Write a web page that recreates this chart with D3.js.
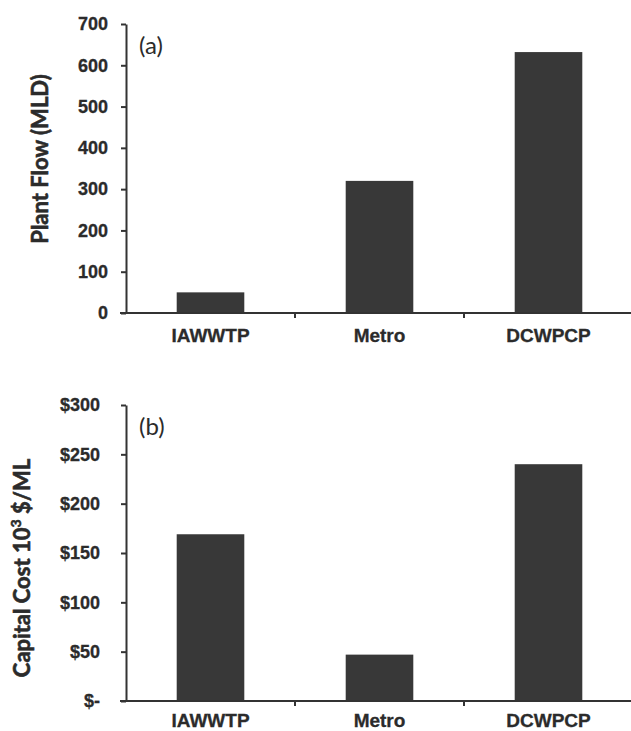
<!DOCTYPE html>
<html>
<head>
<meta charset="utf-8">
<script src="https://cdn.jsdelivr.net/npm/d3@7"></script>
<style>
  body { margin: 0; background: #fff; }
  .tick text { font-family: "Liberation Sans", Arial, sans-serif; font-weight: bold; fill: #2b2b2b; stroke: #2b2b2b; stroke-width: 0.3; }
  .axis path, .axis line { stroke: #333; stroke-width: 2; }
</style>
</head>
<body>
<div class="chart"></div>
<script>
const categories = ['IAWWTP', 'Metro', 'DCWPCP'];
const flow_values = [50, 320, 632];
const cost_values = [169, 47, 240];
const flow_ticks = [0, 100, 200, 300, 400, 500, 600, 700];
const cost_ticks = [0, 50, 100, 150, 200, 250, 300];

const svg = d3.select('.chart')
   .append('svg')
   .attr('width', 631)
   .attr('height', 731);

function draw_panel(opt) {
   const xScale = d3.scaleBand()
      .domain(categories)
      .range([opt.left, opt.right])
      .paddingInner(0.6)
      .paddingOuter(0.3);
   const yScale = d3.scaleLinear()
      .domain([0, d3.max(opt.ticks)])
      .range([opt.bottom, opt.top]);

   // bars
   svg.append('g')
      .selectAll('rect')
      .data(opt.values)
      .enter()
      .append('rect')
      .attr('x', (d, i) => xScale(categories[i]))
      .attr('y', d => yScale(d))
      .attr('width', xScale.bandwidth())
      .attr('height', d => yScale(0) - yScale(d))
      .style('fill', '#383838');

   // y axis
   const yAxis = d3.axisLeft(yScale)
      .tickValues(opt.ticks)
      .tickFormat(opt.format)
      .tickSizeInner(5)
      .tickSizeOuter(0)
      .tickPadding(opt.pad);
   svg.append('g')
      .attr('class', 'axis')
      .attr('transform', `translate(${opt.left},0)`)
      .call(yAxis)
      .selectAll('text')
      .style('font-size', '18px');

   // x axis: labels from the band scale, ticks at band boundaries
   const xAxis = d3.axisBottom(xScale).tickSize(0).tickPadding(opt.xpad);
   const xg = svg.append('g')
      .attr('class', 'axis')
      .attr('transform', `translate(0,${opt.bottom})`)
      .call(xAxis);
   xg.select('.domain').attr('d', `M${opt.left - 6},0H${opt.right}`);
   xg.selectAll('text').style('font-size', '19px');
   const gap = (xScale.step() - xScale.bandwidth()) / 2;
   xg.selectAll('.bound')
      .data(categories.slice(1))
      .enter()
      .append('line')
      .attr('x1', d => xScale(d) - gap)
      .attr('x2', d => xScale(d) - gap)
      .attr('y1', 0)
      .attr('y2', 5);

   // axis title
   svg.append('text')
      .attr('transform', `translate(${opt.titleX},${opt.titleY}) rotate(-90)`)
      .attr('text-anchor', 'middle')
      .style('font-family', 'Lato, sans-serif')
      .style('font-weight', 'bold')
      .style('font-size', '22px')
      .style('fill', '#2b2b2b')
      .style('stroke', '#2b2b2b')
      .style('stroke-width', 0.6)
      .html(opt.title);

   // panel letter
   svg.append('text')
      .attr('x', opt.left + 13)
      .attr('y', opt.top + 30)
      .style('font-family', 'Lato, sans-serif')
      .style('font-size', '24px')
      .style('fill', '#2b2b2b')
      .text(opt.letter);
}

draw_panel({
   values: flow_values, ticks: flow_ticks, format: d3.format('d'),
   left: 126, right: 633, top: 24, bottom: 313, pad: 13, xpad: 16,
   title: 'Plant Flow (MLD)', titleX: 48, titleY: 159, letter: '(a)'
});

draw_panel({
   values: cost_values, ticks: cost_ticks, format: d => d === 0 ? '$-' : '$' + d,
   left: 126, right: 633, top: 405, bottom: 701, pad: 21, xpad: 13,
   title: 'Capital Cost 10<tspan dy="-9" font-size="14px">3</tspan><tspan dy="9"> $/ML</tspan>',
   titleX: 30, titleY: 568, letter: '(b)'
});
</script>
</body>
</html>
